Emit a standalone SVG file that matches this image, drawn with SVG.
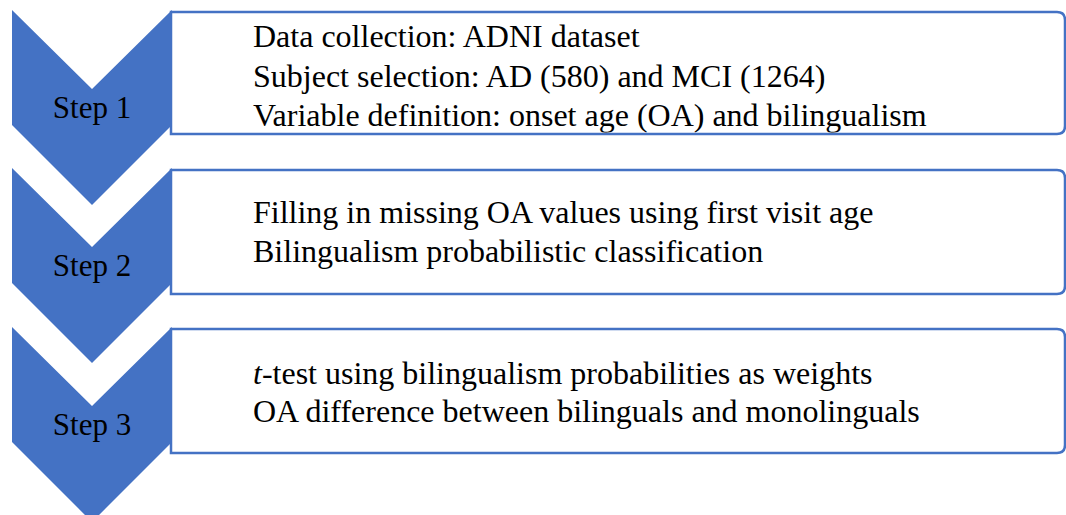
<svg xmlns="http://www.w3.org/2000/svg" width="1066" height="515" viewBox="0 0 1066 515">
<style>
.chev{fill:#4472C4;}
.box{fill:#ffffff;stroke:#4472C4;stroke-width:2.5;}
text{font-family:'Liberation Serif','DejaVu Serif',serif;font-size:32px;fill:#000;}
.s{text-anchor:middle;font-size:31px;}
</style>
<defs>
<clipPath id="c1"><rect x="172" y="13" width="890" height="119.5"/></clipPath>
<clipPath id="c2"><rect x="172" y="171" width="890" height="122"/></clipPath>
<clipPath id="c3"><rect x="172" y="330" width="890" height="122"/></clipPath>
</defs>
<rect width="1066" height="515" fill="#ffffff"/>
<g id="step1">
<path class="box" d="M171,12 H1057 Q1065,12 1065,20 V126 Q1065,134 1057,134 H171 Z"/>
<path class="chev" d="M12,10 L92,89 L172,10 L172,125 L92,205 L12,125 Z"/>
<text class="s" x="92" y="118" font-family="Liberation Serif, serif">Step 1</text>
<g clip-path="url(#c1)">
<text x="253" y="47" font-family="Liberation Serif, serif">Data collection: ADNI dataset</text>
<text x="253" y="86.5" font-family="Liberation Serif, serif">Subject selection: AD (580) and MCI (1264)</text>
<text x="253" y="126" font-family="Liberation Serif, serif">Variable definition: onset age (OA) and bilingualism</text>
</g>
</g>
<g id="step2">
<path class="box" d="M171,170 H1057 Q1065,170 1065,178 V286 Q1065,294 1057,294 H171 Z"/>
<path class="chev" d="M12,168 L92,247 L172,168 L172,283 L92,363 L12,283 Z"/>
<text class="s" x="92" y="276" font-family="Liberation Serif, serif">Step 2</text>
<g clip-path="url(#c2)">
<text x="253" y="223" font-family="Liberation Serif, serif">Filling in missing OA values using first visit age</text>
<text x="253" y="262" font-family="Liberation Serif, serif">Bilingualism probabilistic classification</text>
</g>
</g>
<g id="step3">
<path class="box" d="M171,329 H1057 Q1065,329 1065,337 V445 Q1065,453 1057,453 H171 Z"/>
<path class="chev" d="M12,327 L92,406 L172,327 L172,442 L92,522 L12,442 Z"/>
<text class="s" x="92" y="435" font-family="Liberation Serif, serif">Step 3</text>
<g clip-path="url(#c3)">
<text x="253" y="384" font-family="Liberation Serif, serif"><tspan font-style="italic">t</tspan>-test using bilingualism probabilities as weights</text>
<text x="253" y="422" font-family="Liberation Serif, serif">OA difference between bilinguals and monolinguals</text>
</g>
</g>
<g id="connectors"></g>
</svg>
